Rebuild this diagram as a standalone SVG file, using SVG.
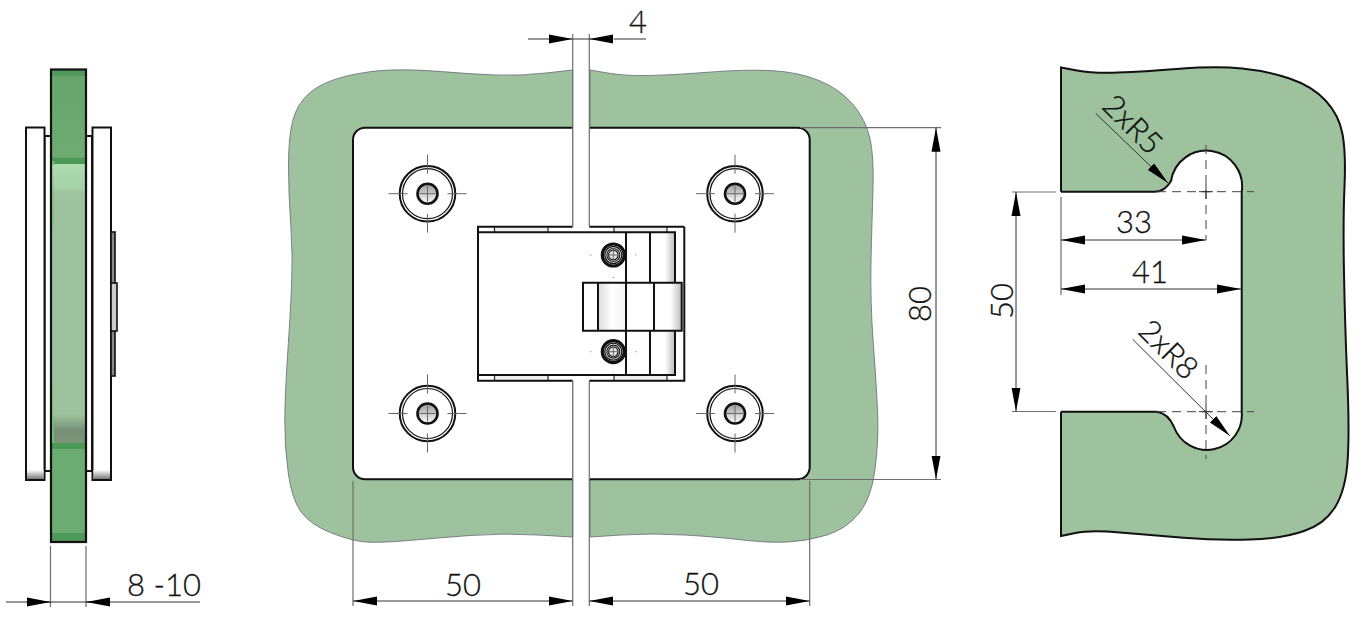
<svg xmlns="http://www.w3.org/2000/svg" width="1362" height="620" viewBox="0 0 1362 620">
<style>
.o{fill:none;stroke:#111;stroke-width:2}
.w{fill:#fff;stroke:#111;stroke-width:2}
.t{fill:none;stroke:#333;stroke-width:1.3}
.d{fill:none;stroke:#333;stroke-width:1}
.da{fill:none;stroke:#333;stroke-width:1;marker-start:url(#as);marker-end:url(#ae)}
.e{fill:none;stroke:#6e6e6e;stroke-width:1.2}
.c{fill:none;stroke:#666;stroke-width:1}
.cd{fill:none;stroke:#444;stroke-width:1;stroke-dasharray:9 6}
.g{fill:#9dc29d;stroke:#667;stroke-width:.8}
text{font-family:"Lato","Liberation Sans",sans-serif;font-weight:300;font-size:31px;fill:#111;stroke:#111;stroke-width:.3;text-anchor:middle}
</style>
<defs>
<marker id="ae" markerUnits="userSpaceOnUse" markerWidth="24" markerHeight="10" refX="24" refY="5" orient="auto"><path d="M0 0.5L24 5L0 9.500Z" fill="#000"/></marker>
<marker id="as" markerUnits="userSpaceOnUse" markerWidth="24" markerHeight="10" refX="0" refY="5" orient="auto"><path d="M24 0.5L0 5L24 9.500Z" fill="#000"/></marker>
<linearGradient id="gl" x1="0" y1="0" x2="0" y2="1">
<stop offset="0" stop-color="#4f9a5a"/><stop offset="0.014" stop-color="#4f9a5a"/><stop offset="0.015" stop-color="#68a66e"/>
<stop offset="0.186" stop-color="#6eaa72"/><stop offset="0.187" stop-color="#4a9a55"/><stop offset="0.2" stop-color="#4a9a55"/>
<stop offset="0.201" stop-color="#aedbb0"/><stop offset="0.25" stop-color="#a6d2a8"/><stop offset="0.262" stop-color="#9dc29d"/>
<stop offset="0.73" stop-color="#9dc29d"/><stop offset="0.765" stop-color="#768f76"/><stop offset="0.79" stop-color="#7a957a"/>
<stop offset="0.791" stop-color="#4a9a55"/><stop offset="0.803" stop-color="#4a9a55"/><stop offset="0.804" stop-color="#6cab72"/>
<stop offset="0.981" stop-color="#6cab72"/><stop offset="0.982" stop-color="#4f9a5a"/><stop offset="1" stop-color="#4f9a5a"/>
</linearGradient>
<linearGradient id="pb" x1="0" y1="0" x2="0" y2="1"><stop offset="0" stop-color="#fff"/><stop offset="1" stop-color="#777"/></linearGradient>
<linearGradient id="shade" x1="0" y1="0" x2="1" y2="0"><stop offset="0" stop-color="#fff"/><stop offset="0.6" stop-color="#fff"/><stop offset="1" stop-color="#bbb"/></linearGradient>
<linearGradient id="shadeL" x1="0" y1="0" x2="1" y2="0"><stop offset="0" stop-color="#ddd"/><stop offset="0.5" stop-color="#fff"/><stop offset="1" stop-color="#f4f4f4"/></linearGradient>
<linearGradient id="hole" x1="0" y1="0" x2="0" y2="1"><stop offset="0" stop-color="#999"/><stop offset="0.5" stop-color="#ccc"/><stop offset="1" stop-color="#fff"/></linearGradient>
<g id="bolt">
<circle r="27.800" class="w" stroke-width="2"/><circle r="25" fill="none" stroke="#111" stroke-width="1.200"/>
<path class="c" d="M-39 0H-20M20 0H39M0 -39V-20M0 20V39"/>
<circle r="10" fill="url(#hole)" stroke="#111" stroke-width="2.600"/>
<path class="c" d="M-8 0H8M0 -8V8"/>
</g>
<g id="screw">
<path class="c" d="M-23 0H-22M22 0H23M0 -23V-22M0 22V23" stroke-width="1.400"/>
<circle r="11" fill="#fff" stroke="#111" stroke-width="3.200"/><circle r="8.500" fill="none" stroke="#111" stroke-width="1.300"/><circle r="6.500" fill="none" stroke="#111" stroke-width="1.200"/>
<circle r="4.800" fill="#e6e6e6" stroke="#111" stroke-width="1.200"/><path class="c" d="M-7 0H7M0 -7V7"/>
</g>
</defs>

<g id="side-view">
<rect x="44.500" y="136" width="47.500" height="335" class="w"/>
<rect x="51" y="69.500" width="35" height="472.500" fill="url(#gl)" stroke="#111" stroke-width="2.200"/>
<path d="M52 165h2.500v-4h-2.500zM52 225l1.500 -60v60zM52 380l2 55v8h-2z" fill="#6ebd70"/>
<rect x="26" y="127.500" width="18.500" height="352.500" class="w"/>
<rect x="92.500" y="127.500" width="18.500" height="352.500" class="w"/>
<rect x="27" y="470" width="16.500" height="9" fill="url(#pb)"/>
<rect x="93.500" y="470" width="16.500" height="9" fill="url(#pb)"/>
<rect x="111" y="232" width="4" height="144" fill="#888" stroke="#111" stroke-width="1.600"/>
<rect x="111" y="283" width="6" height="48" fill="#ccc" stroke="#111" stroke-width="1.600"/>
</g>

<g id="front-view">
<path class="g" d="M572.700 70L546 73Q520 76 495 75Q470 74 441.500 71.600Q413 69.300 391.500 70Q370 70.500 346 76.200Q322 82 309.500 93Q297 104 292.800 120.500Q288.500 137 288.500 165Q288.500 193 290.800 225Q293 257 291.500 288.500Q290 320 287.500 356.500Q285 393 284.800 420Q284.500 447 288.300 473.500Q292 500 301.500 512.500Q311 525 331.500 533Q352 541 366 542Q380 543 408.500 540.500Q437 538 470 535.500Q503 533 538 535L572.700 537Z"/>
<path class="g" d="M590 70L607.500 73Q625 76 648.500 75.500Q672 75 708.500 72.200Q745 69.300 771.500 70.600Q798 72 819 80.500Q840 89 853 104.500Q866 120 870 138.500Q874 157 873 188.500Q872 220 871 260Q870 300 873.500 346.500Q877 393 877.800 418Q878.500 443 874.800 471Q871 499 858.500 514Q846 529 827 535Q808 541 788 542Q768 543 743 540Q718 537 685 535Q652 533 621 535L590 537Z"/>
<path fill="#fff" d="M572.700 127.700H365a12 12 0 0 0 -12 12V467.300a12 12 0 0 0 12 12H572.700V380.700H478V226.700H572.700Z"/>
<path fill="#fff" d="M589.300 127.700H797.700a12 12 0 0 1 12 12V467.300a12 12 0 0 1 -12 12H589.300V380.700H684V226.700H589.300Z"/>
<path class="o" d="M572.700 127.700H365a12 12 0 0 0 -12 12V467.300a12 12 0 0 0 12 12H572.700"/>
<path class="o" d="M589.300 127.700H797.700a12 12 0 0 1 12 12V467.300a12 12 0 0 1 -12 12H589.300"/>
<use href="#bolt" x="427.500" y="193.700"/><use href="#bolt" x="735" y="193.700"/>
<use href="#bolt" x="427.500" y="413.500"/><use href="#bolt" x="735" y="413.500"/>
</g>

<g id="hinge">
<rect x="478" y="226.700" width="206.300" height="154" fill="#fff"/>
<path fill="#efefef" d="M495 228H548V232H495ZM495 376H548V380H495ZM615 228H667V232H615ZM615 376H667V380H615Z"/>
<path class="t" d="M494.500 227V232M548 227V232M614 227V232M667 227V232M494.500 375V381M548 375V381M614 375V381M667 375V381"/>
<rect x="650" y="232.300" width="25" height="142.700" fill="url(#shade)"/>
<path class="o" d="M684.300 226.700H589.300M572.700 226.700H478V380.700H572.700M589.300 380.700H684.300V226.700"/>
<use href="#screw" x="613.300" y="255"/><use href="#screw" x="613.300" y="351.700"/>
<path class="o" d="M478 232.300H675V375H478M626 232.300V375M650 232.300V375"/>
<rect x="583" y="282.700" width="98.700" height="48" fill="#fff"/>
<rect x="598" y="282.700" width="28" height="48" fill="url(#shadeL)"/>
<rect x="654" y="282.700" width="27.700" height="48" fill="url(#shade)"/>
<path class="o" d="M583 282.700H681.700V330.700H583ZM598 282.700V330.700M626 282.700V330.700M654 282.700V330.700"/>
</g>

<g id="slot-view">
<path class="g" style="stroke:none" d="M1061 67.500L1077 70.500Q1093 73.500 1118 72.600Q1143 71.700 1180 68.800Q1217 66 1242 68.500Q1267 71 1289.500 78.500Q1312 86 1325.500 100.500Q1339 115 1342.500 134Q1346 153 1344.500 186.500Q1343 220 1344 273.500Q1345 327 1347.200 377Q1349.500 427 1347.800 458Q1346 489 1335.500 506.500Q1325 524 1304 531Q1283 538.500 1250 539.500Q1217 540.500 1183.500 537.800Q1150 535 1120 532.500Q1090 530 1075.500 533L1061 536V411.700H1157C1166 413 1171 420 1174 427A35 35 0 0 0 1241.700 411.700V191.700A35.700 35.700 0 0 0 1171 181C1167 188 1162 191.700 1155 191.700H1061Z"/>
<path class="o" d="M1061 191.700H1155C1162 191.700 1167 188 1171 181A35.700 35.700 0 0 1 1241.700 191.700V411.700A35 35 0 0 1 1174 427C1171 420 1166 413 1157 411.700H1061"/>
<path class="o" d="M1061 191.700V67.500L1077 70.500Q1093 73.500 1118 72.600Q1143 71.700 1180 68.800Q1217 66 1242 68.500Q1267 71 1289.500 78.500Q1312 86 1325.500 100.500Q1339 115 1342.500 134Q1346 153 1344.500 186.500Q1343 220 1344 273.500Q1345 327 1347.200 377Q1349.500 427 1347.800 458Q1346 489 1335.500 506.500Q1325 524 1304 531Q1283 538.500 1250 539.500Q1217 540.500 1183.500 537.800Q1150 535 1120 532.500Q1090 530 1075.500 533L1061 536V411.700"/>
</g>

<g id="connectors">
<path class="e" d="M572.700 34V226.700M589.300 34V226.700M572.700 380.700V606M589.300 380.700V606"/>
<path class="d" d="M528 39H549M614 39H646M573 39H590"/>
<path class="d" d="M549 39H572.700" marker-end="url(#ae)"/>
<path class="d" d="M589.300 39H613.300" marker-start="url(#as)"/>

<path class="e" d="M50.500 546V607M86 546V607"/>
<path class="d" d="M6 602H200"/>
<path class="d" d="M26.500 602H50.500" marker-end="url(#ae)"/>
<path class="d" d="M86 602H110" marker-start="url(#as)"/>

<path class="e" d="M353 481V606M809.700 481V606"/>
<path class="da" d="M353 601H572.700"/>
<path class="da" d="M589.300 601H809.700"/>

<path class="e" d="M800 127.700H941M800 479.500H941"/>
<path class="da" d="M936 127.700V479.500"/>

<path class="e" d="M1012 192H1056M1012 411.500H1056M1061 197V295"/>
<path class="da" d="M1016 192V411.500"/>
<path class="da" d="M1061 240H1206"/>
<path class="da" d="M1061 289H1241"/>
<path class="cd" d="M1157 191.700H1254M1157 411.700H1254M1206 145V240M1206 365V459"/>
<path class="d" d="M1199 191.700H1213M1199 411.700H1213M1206 184V199M1206 404V419"/>
<path class="d" d="M1095.700 113.300L1168.300 183.300" marker-end="url(#ae)"/>
<path class="d" d="M1132.700 339.300L1230 436" marker-end="url(#ae)"/>
</g>

<g id="labels">
<text x="638" y="33">4</text>
<text x="164" y="596">8 -10</text>
<text x="463" y="596">50</text>
<text x="701" y="595">50</text>
<text transform="translate(931 304) rotate(-90)">80</text>
<text transform="translate(1013 301) rotate(-90)">50</text>
<text x="1134" y="233">33</text>
<text x="1150" y="283">41</text>
<text transform="translate(1125 132) rotate(45)">2xR5</text>
<text transform="translate(1161 357) rotate(45)">2xR8</text>
</g>
</svg>
